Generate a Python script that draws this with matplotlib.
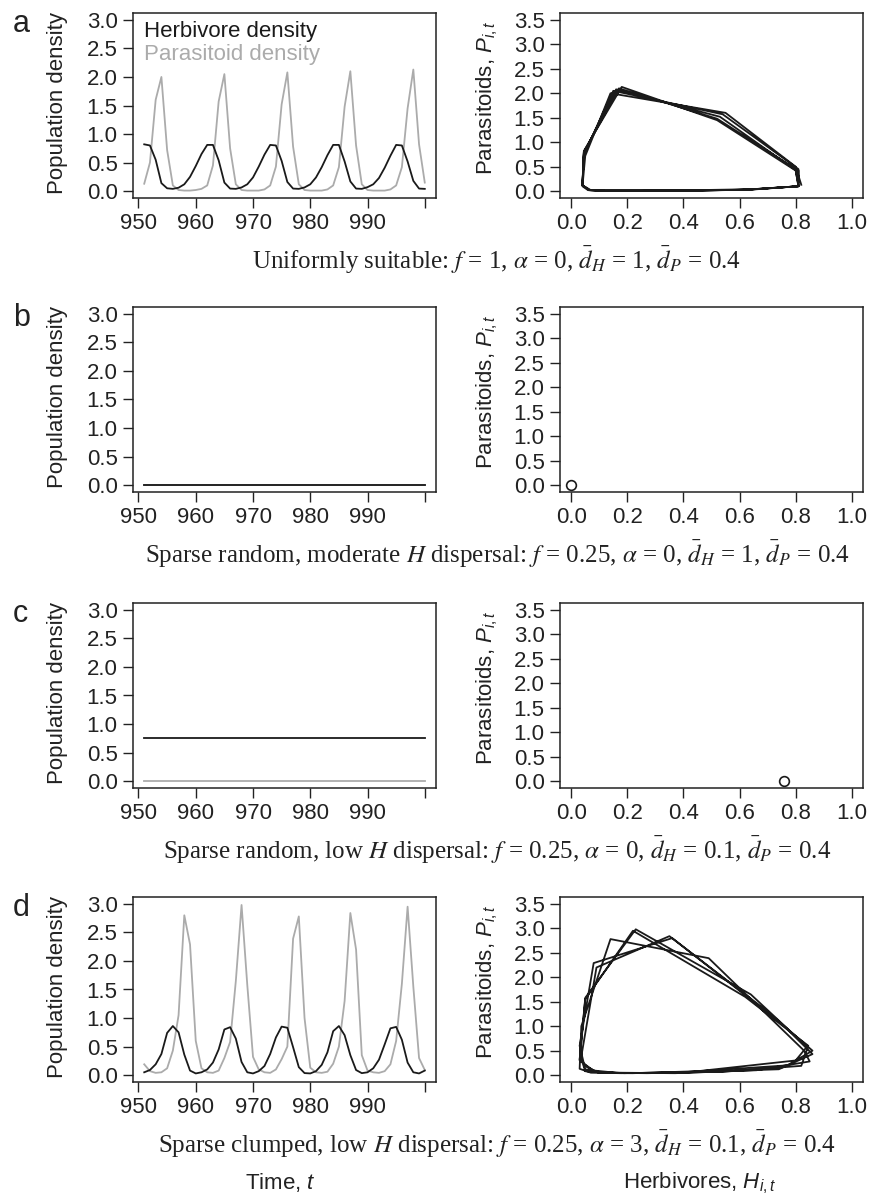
import numpy as np
import matplotlib.pyplot as plt

plt.rcParams['font.family'] = 'Liberation Sans'
plt.rcParams['mathtext.fontset'] = 'custom'
plt.rcParams['mathtext.rm'] = 'Liberation Sans'
plt.rcParams['mathtext.it'] = 'Liberation Sans:italic'

# time steps shown (last 50 generations)
years = np.arange(951, 1001)

# a: uniformly suitable
herb_a = [0.82, 0.80, 0.55, 0.14, 0.05, 0.04, 0.06, 0.12, 0.25, 0.44, 0.65,
          0.81, 0.81, 0.54, 0.15, 0.045, 0.04, 0.065, 0.12, 0.24, 0.43, 0.64,
          0.81, 0.80, 0.53, 0.16, 0.045, 0.04, 0.065, 0.12, 0.24, 0.42, 0.63,
          0.81, 0.81, 0.52, 0.17, 0.045, 0.04, 0.07, 0.12, 0.23, 0.41, 0.62,
          0.81, 0.80, 0.52, 0.18, 0.045, 0.04]
para_a = [0.13, 0.50, 1.60, 2.00, 0.72, 0.10, 0.02, 0.01, 0.01, 0.02, 0.04,
          0.10, 0.45, 1.57, 2.05, 0.75, 0.12, 0.02, 0.01, 0.01, 0.01, 0.03,
          0.10, 0.43, 1.52, 2.08, 0.78, 0.12, 0.02, 0.01, 0.01, 0.01, 0.03,
          0.10, 0.42, 1.48, 2.10, 0.80, 0.12, 0.02, 0.01, 0.01, 0.01, 0.03,
          0.10, 0.42, 1.45, 2.13, 0.82, 0.15]

# b: sparse random, moderate H dispersal (both extinct)
herb_b = [0.0] * 50
para_b = [0.0] * 50

# c: sparse random, low H dispersal (parasitoid extinct)
herb_c = [0.76] * 50
para_c = [0.0] * 50

# d: sparse clumped, low H dispersal
herb_d = [0.05, 0.09, 0.19, 0.37, 0.74, 0.86, 0.75, 0.36, 0.08, 0.03,
          0.05, 0.10, 0.22, 0.45, 0.80, 0.84, 0.64, 0.23, 0.05, 0.03,
          0.07, 0.16, 0.37, 0.66, 0.85, 0.83, 0.49, 0.14, 0.036, 0.03,
          0.07, 0.18, 0.40, 0.77, 0.86, 0.70, 0.35, 0.09, 0.035, 0.05,
          0.12, 0.27, 0.54, 0.82, 0.845, 0.62, 0.22, 0.05, 0.03, 0.08]
para_d = [0.19, 0.07, 0.04, 0.05, 0.12, 0.43, 1.05, 2.80, 2.29, 0.60,
          0.12, 0.05, 0.04, 0.08, 0.30, 0.58, 1.65, 2.98, 1.58, 0.32,
          0.10, 0.05, 0.04, 0.10, 0.28, 0.50, 2.39, 2.78, 1.00, 0.13,
          0.05, 0.04, 0.06, 0.20, 0.50, 1.30, 2.84, 2.20, 0.35, 0.08,
          0.05, 0.04, 0.07, 0.19, 0.60, 1.60, 2.95, 1.55, 0.30, 0.09]

panels = [
    ('a', herb_a, para_a, False,
     'Uniformly suitable: $f$ = 1, $\\alpha$ = 0, $\\bar{d}_H$ = 1, $\\bar{d}_P$ = 0.4'),
    ('b', herb_b, para_b, True,
     'Sparse random, moderate $H$ dispersal: $f$ = 0.25, $\\alpha$ = 0, $\\bar{d}_H$ = 1, $\\bar{d}_P$ = 0.4'),
    ('c', herb_c, para_c, True,
     'Sparse random, low $H$ dispersal: $f$ = 0.25, $\\alpha$ = 0, $\\bar{d}_H$ = 0.1, $\\bar{d}_P$ = 0.4'),
    ('d', herb_d, para_d, False,
     'Sparse clumped, low $H$ dispersal: $f$ = 0.25, $\\alpha$ = 3, $\\bar{d}_H$ = 0.1, $\\bar{d}_P$ = 0.4'),
]

W, H = 870, 1200
fig = plt.figure(figsize=(W / 100, H / 100), dpi=100)

box_tops = [13, 307, 603, 897]
box_h = 185
left_x, right_x, box_w = 133, 560, 303
herb_col = '#1a1a1a'
para_col = '#ababab'


def style(ax):
    ax.tick_params(direction='out', length=7, width=1, labelsize=16, pad=4,
                   color='#222222', labelcolor='#222222')
    for s in ax.spines.values():
        s.set_linewidth(1.1)
        s.set_color('#222222')


for (letter, herb, para, equil, caption), top in zip(panels, box_tops):
    bottom = 1 - (top + box_h) / H

    # time series
    ax = fig.add_axes([left_x / W, bottom, box_w / W, box_h / H])
    ax.plot(years, para, color=para_col, lw=1.3)
    ax.plot(years, herb, color=herb_col, lw=1.3)
    ax.set_xlim(949.04, 1001.96)
    ax.set_ylim(-0.12, 3.12)
    ax.set_xticks([950, 960, 970, 980, 990, 1000])
    ax.set_xticklabels(['950', '960', '970', '980', '990', ''])
    ax.set_yticks([0, 0.5, 1, 1.5, 2, 2.5, 3])
    ax.set_yticklabels(['0.0', '0.5', '1.0', '1.5', '2.0', '2.5', '3.0'])
    style(ax)
    if letter == 'a':
        ax.text(0.035, 0.955, 'Herbivore density', transform=ax.transAxes,
                color=herb_col, fontsize=16, va='top')
        ax.text(0.035, 0.83, 'Parasitoid density', transform=ax.transAxes,
                color=para_col, fontsize=16, va='top')

    # phase plane
    ax2 = fig.add_axes([right_x / W, bottom, box_w / W, box_h / H])
    ax2.plot(herb, para, color=herb_col, lw=1.3)
    if equil:
        ax2.plot(herb[-1], para[-1], 'o', ms=7, mfc='white', mec=herb_col, mew=1.2)
    ax2.set_xlim(-0.04, 1.04)
    ax2.set_ylim(-0.14, 3.64)
    ax2.set_xticks([0, 0.2, 0.4, 0.6, 0.8, 1.0])
    ax2.set_xticklabels(['0.0', '0.2', '0.4', '0.6', '0.8', '1.0'])
    ax2.set_yticks([0, 0.5, 1, 1.5, 2, 2.5, 3, 3.5])
    ax2.set_yticklabels(['0.0', '0.5', '1.0', '1.5', '2.0', '2.5', '3.0', '3.5'])
    style(ax2)

    # labels
    fig.text(13 / W, 1 - (top + 19) / H, letter, fontsize=22, va='baseline',
             ha='left', color='#222222')
    fig.text(58 / W, 1 - (top + 90) / H, 'Population density', rotation=90,
             fontsize=16, ha='center', va='center', color='#222222')
    fig.text(487 / W, 1 - (top + 85) / H, 'Parasitoids, $P_{i,t}$', rotation=90,
             fontsize=16, ha='center', va='center', color='#222222')
    fig.text(497 / W, 1 - (top + 247) / H, caption, fontsize=18,
             family='Liberation Serif', math_fontfamily='stix',
             ha='center', va='center', color='#222222')

fig.text(280 / W, 1 - 1183 / H, 'Time, $t$', fontsize=16, ha='center',
         va='center', color='#222222')
fig.text(700 / W, 1 - 1183 / H, 'Herbivores, $H_{i,t}$', fontsize=16,
         ha='center', va='center', color='#222222')

fig.savefig('out.png', dpi=100)
